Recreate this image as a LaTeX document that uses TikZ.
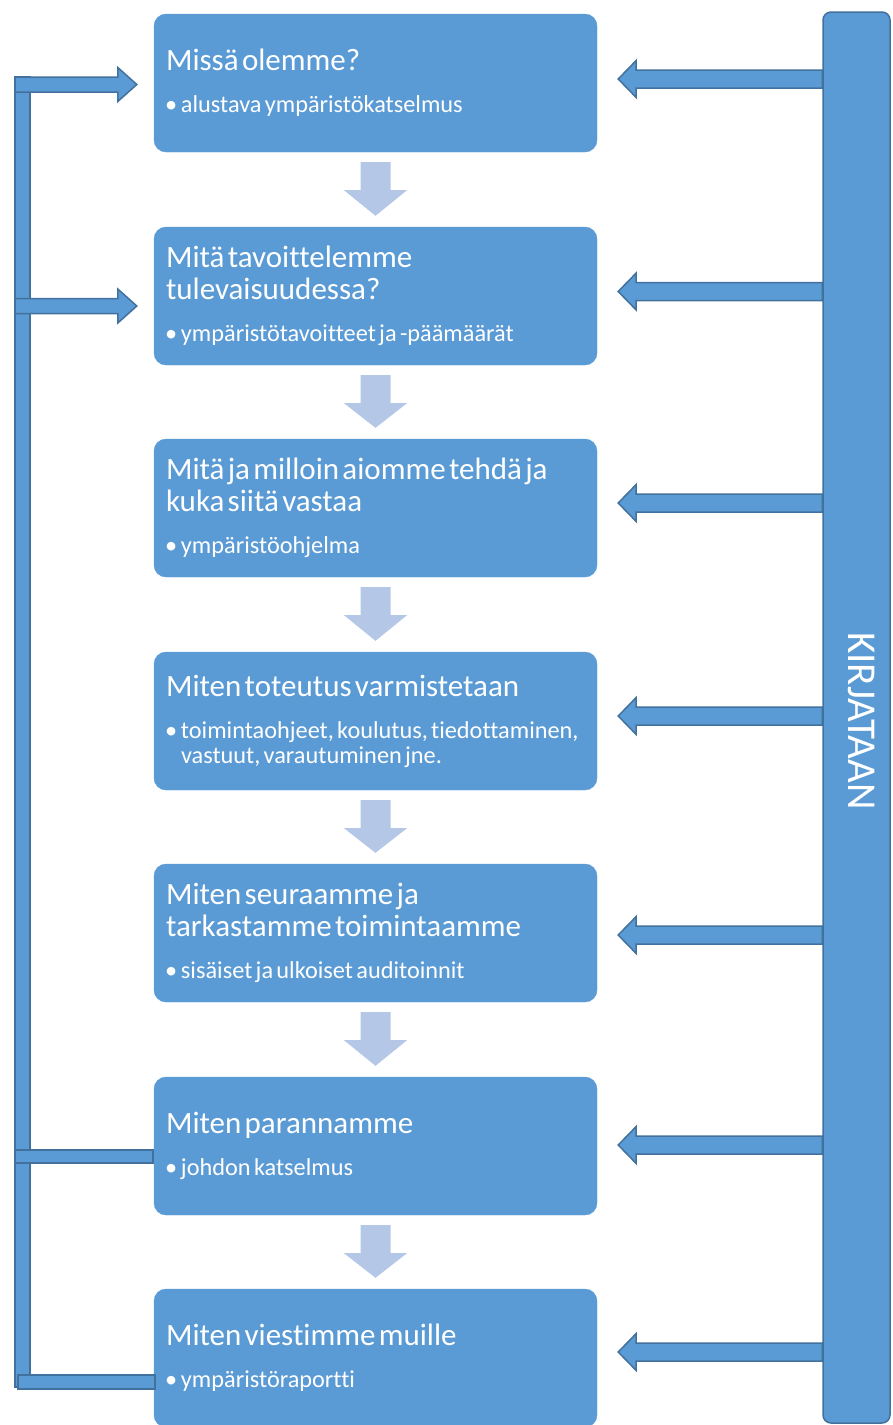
\documentclass[tikz,border=0pt]{standalone}
\usepackage{fontspec}
\setmainfont{Carlito}[Ligatures=CommonOff]
\usetikzlibrary{calc}
\definecolor{boxblue}{HTML}{5B9BD5}
\definecolor{edgeblue}{HTML}{41719C}
\definecolor{lightarrow}{HTML}{B4C7E7}
\tikzset{
  stepbox/.style={fill=boxblue, draw=boxblue, rounded corners=12pt,
    minimum width=443pt, minimum height=138pt, text width=419pt,
    inner xsep=12pt, inner ysep=4pt, align=left, text=white},
  blockarrow/.style={fill=boxblue, draw=edgeblue, line width=1.5pt, line join=miter},
  downarrow/.style={fill=lightarrow, draw=none},
  sidebar/.style={fill=boxblue, draw=edgeblue, line width=1.5pt, rounded corners=8pt,
    minimum width=67pt, minimum height=1411pt, inner sep=0pt},
}
\newcommand\bxtext[2]{{\fontsize{31}{32}\selectfont #1\par}\vspace{17pt}%
  {\fontsize{24.3}{25}\selectfont\hangindent=15pt\hangafter=1\noindent\makebox[15pt][l]{\hspace{-1pt}•}#2\par}}
\begin{document}
\begin{tikzpicture}[x=1pt,y=-1pt]
\useasboundingbox (0,0) rectangle (892,1425);
% boxes
\node[stepbox] (b1) at (375.5,83)  {\bxtext{Missä olemme?}{alustava ympäristökatselmus}};
\node[stepbox] (b2) at (375.5,296) {\bxtext{Mitä tavoittelemme\newline tulevaisuudessa?}{ympäristötavoitteet ja -päämäärät}};
\node[stepbox] (b3) at (375.5,508) {\bxtext{Mitä ja milloin aiomme tehdä ja\newline kuka siitä vastaa}{ympäristöohjelma}};
\node[stepbox] (b4) at (375.5,721) {\bxtext{Miten toteutus varmistetaan}{toimintaohjeet, koulutus, tiedottaminen,\newline vastuut, varautuminen jne.}};
\node[stepbox] (b5) at (375.5,933) {\bxtext{Miten seuraamme ja\newline tarkastamme toimintaamme}{sisäiset ja ulkoiset auditoinnit}};
\node[stepbox] (b6) at (375.5,1146) {\bxtext{Miten parannamme}{johdon katselmus}};
\node[stepbox] (b7) at (375.5,1358) {\bxtext{Miten viestimme muille}{ympäristöraportti}};
% down arrows between boxes
\foreach \a/\b in {b1/b2,b2/b3,b3/b4,b4/b5,b5/b6,b6/b7}{
  \path[downarrow] ($(\a.south)+(-15,10)$) -- ++(30,0) -- ++(0,28) -- ++(16.5,0)
    -- ($(\b.north)+(0,-11)$) -- ($(\a.south)+(-31.5,38)$) -- ++(16.5,0) -- cycle;
}
% right side bar
\node[sidebar] (kbar) at (856.5,717.5) {};
\node[rotate=-90, text=white, inner sep=0pt, font=\fontsize{41}{41}\selectfont] (klabel) at (862,721) {KIRJATAAN};
% arrows from the side bar to boxes
\foreach \b/\dy in {b1/-4, b2/-4.5, b3/-5, b4/-5, b5/2, b6/-1, b7/-6}{
  \coordinate (t) at ($(\b.east)+(21,\dy)$);
  \draw[blockarrow] (t) -- ++(18,-18.5) -- ++(0,9.5) -- ($(kbar.west |- t)+(0,-9)$)
    -- ($(kbar.west |- t)+(0,9)$) -- ($(t)+(18,9)$) -- ++(0,9.5) -- cycle;
}
% left feedback bar
\coordinate (ltop) at (15,77);
\coordinate (lbot) at (30,1387);
\draw[blockarrow] (ltop) rectangle (lbot);
\draw[blockarrow] (15,1150) rectangle ($(b6.west |- 0,1163)+(-1,0)$);
\draw[blockarrow] (18,1375) rectangle ($(b7.west |- 0,1389)+(1,0)$);
% arrows into the top two boxes
\foreach \b/\yc in {b1/84.5, b2/306}{
  \coordinate (t) at ($(\b.west |- 0,\yc)+(-17,0)$);
  \draw[blockarrow] (t) -- ++(-19,-17) -- ++(0,9.5) -- (15,\yc-7.5)
    -- (15,\yc+7.5) -- ($(t)+(-19,7.5)$) -- ++(0,9.5) -- cycle;
}
\end{tikzpicture}
\end{document}
